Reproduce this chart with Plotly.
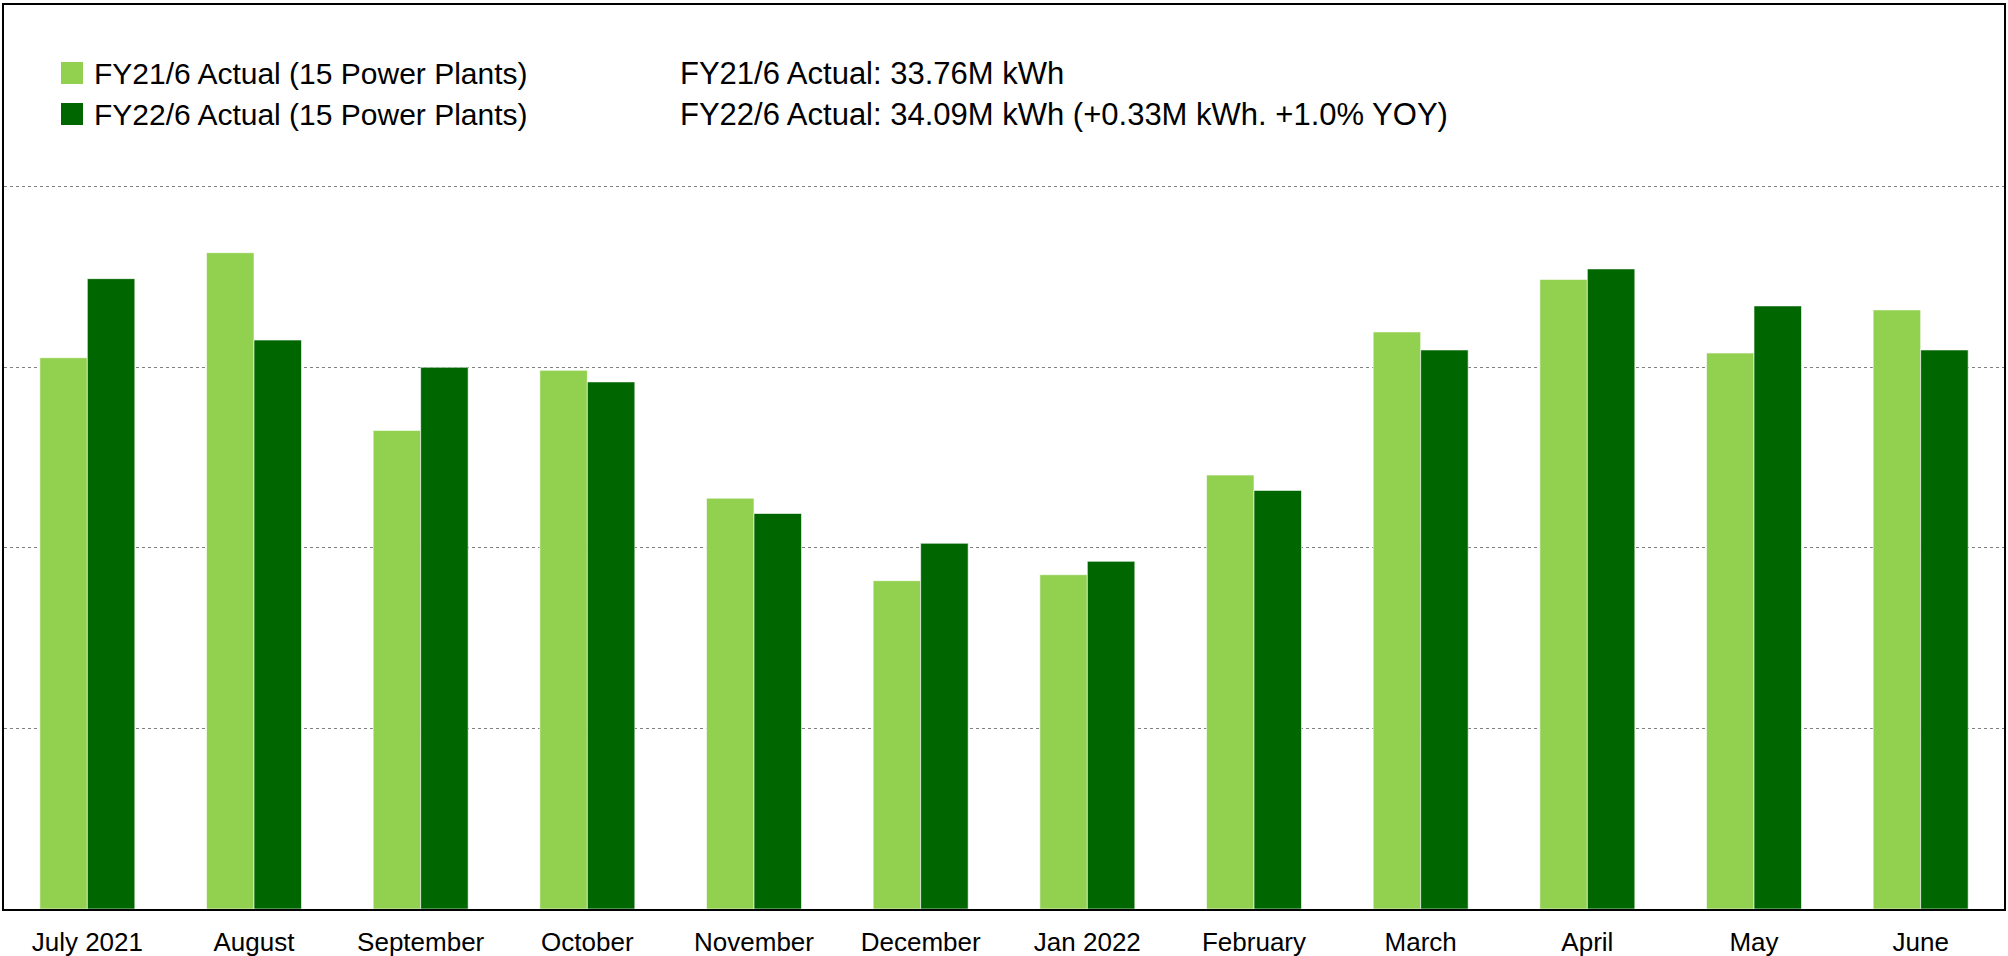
import plotly.graph_objects as go

# ---- data ----
months = ["July 2021", "August", "September", "October", "November", "December",
          "Jan 2022", "February", "March", "April", "May", "June"]
fy21_name = "FY21/6 Actual (15 Power Plants)"
fy22_name = "FY22/6 Actual (15 Power Plants)"
# monthly generation, million kWh
fy21_values = [3.054, 3.636, 2.651, 2.984, 2.276, 1.819, 1.852, 2.404, 3.197, 3.488, 3.080, 3.319]
fy22_values = [3.492, 3.152, 3.001, 2.920, 2.191, 2.026, 1.926, 2.319, 3.097, 3.546, 3.341, 3.097]
summary_lines = ["FY21/6 Actual: 33.76M kWh",
                 "FY22/6 Actual: 34.09M kWh (+0.33M kWh. +1.0% YOY)"]
grid_values = [1, 2, 3, 4]

# ---- style ----
light = "#92D050"
dark = "#006600"
font_family = "Arial, Liberation Sans, sans-serif"

fig = go.Figure()
fig.add_trace(go.Bar(x=months, y=fy21_values, name=fy21_name,
                     marker=dict(color=light, line=dict(color="rgba(255,255,255,0.6)", width=1))))
fig.add_trace(go.Bar(x=months, y=fy22_values, name=fy22_name,
                     marker=dict(color=dark, line=dict(color="rgba(255,255,255,0.6)", width=1))))

W, H = 2008, 956
ml, mr, mt, mb = 4, 4, 5, 47
pw = W - ml - mr
ph = H - mt - mb

def px_to_paper_x(px):
    return (px - ml) / pw

def px_to_paper_y(py):
    return (H - mb - py) / ph

annotations = []
shapes = []
legend_rows_y = [73, 114]
for i, (name, col) in enumerate([(fy21_name, light), (fy22_name, dark)]):
    cy = legend_rows_y[i]
    shapes.append(dict(type="rect", xref="paper", yref="paper",
                       x0=px_to_paper_x(61), x1=px_to_paper_x(83),
                       y0=px_to_paper_y(cy + 11), y1=px_to_paper_y(cy - 11),
                       fillcolor=col, line=dict(width=0)))
    annotations.append(dict(text=name, xref="paper", yref="paper",
                            x=px_to_paper_x(92), y=px_to_paper_y(cy),
                            xanchor="left", yanchor="middle", showarrow=False,
                            font=dict(size=30, color="black", family=font_family)))
    annotations.append(dict(text=summary_lines[i], xref="paper", yref="paper",
                            x=px_to_paper_x(678), y=px_to_paper_y(cy),
                            xanchor="left", yanchor="middle", showarrow=False,
                            font=dict(size=31, color="black", family=font_family)))

fig.update_layout(
    width=W, height=H,
    margin=dict(l=ml, r=mr, t=mt, b=mb, pad=0, autoexpand=False),
    paper_bgcolor="white", plot_bgcolor="white",
    barmode="group", bargap=0.43, bargroupgap=0,
    showlegend=False,
    font=dict(family=font_family, color="black"),
    annotations=annotations, shapes=shapes,
    xaxis=dict(showline=True, mirror=True, linecolor="black", linewidth=2,
               showgrid=False, tickfont=dict(size=26, color="black"),
               ticks="outside", ticklen=9, tickcolor="rgba(0,0,0,0)",
               automargin=False),
    yaxis=dict(range=[0, 5.008], tickvals=grid_values, showticklabels=False,
               showgrid=True, gridcolor="#808080", griddash="dot", gridwidth=1,
               zeroline=False, showline=True, mirror=True, linecolor="black",
               linewidth=2, ticks="", automargin=False),
)

fig.write_html("out.html", config={"displayModeBar": False},
               post_script="document.body.style.margin='0';document.body.style.overflow='hidden';")
